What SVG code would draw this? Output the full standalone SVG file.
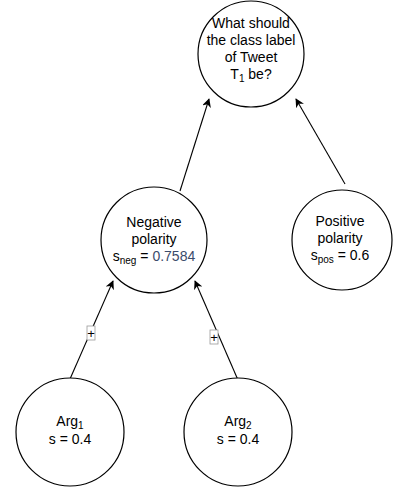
<svg xmlns="http://www.w3.org/2000/svg" width="396" height="489" viewBox="0 0 396 489">
<style>
.n{fill:#fff;stroke:#000;stroke-width:1.2}
.t{font-family:"Liberation Sans",Arial,sans-serif;font-size:14px;fill:#000;text-anchor:middle}
.c{stroke:#000;stroke-width:1.1;fill:none;marker-end:url(#ah)}
.lb{fill:#fff;stroke:#999;stroke-width:0.8}
.pl{font-family:"Liberation Sans",Arial,sans-serif;font-size:13px;fill:#000;text-anchor:middle}
</style>
<defs>
<marker id="ah" viewBox="0 0 10 10" refX="9" refY="5" markerWidth="9" markerHeight="9" markerUnits="userSpaceOnUse" orient="auto">
<path d="M0,0 L10,5 L0,10 L3,5 Z" fill="#000"/>
</marker>
</defs>
<rect width="396" height="489" fill="#fff"/>
<g id="connectors">
<line class="c" x1="180" y1="191" x2="209" y2="99"/>
<line class="c" x1="345" y1="184" x2="296" y2="99"/>
<line class="c" x1="70" y1="379" x2="113" y2="281"/>
<line class="c" x1="238" y1="380" x2="195" y2="281"/>
<g id="label1"><rect class="lb" x="87" y="326" width="8" height="14"/><text class="pl" x="91" y="338">+</text></g>
<g id="label2"><rect class="lb" x="210" y="330" width="8" height="14"/><text class="pl" x="214" y="342">+</text></g>
</g>
<g id="question">
<circle class="n" cx="251" cy="54" r="53"/>
<text class="t" x="251" y="28">What should</text>
<text class="t" x="251" y="45">the class label</text>
<text class="t" x="251" y="62">of Tweet</text>
<text class="t" x="251" y="79">T<tspan font-size="10" dy="3">1</tspan><tspan dy="-3"> be?</tspan></text>
</g>
<g id="negative">
<circle class="n" cx="154" cy="240" r="53"/>
<text class="t" x="154" y="227">Negative</text>
<text class="t" x="154" y="244">polarity</text>
<text class="t" x="154" y="261">s<tspan font-size="10" dy="3">neg</tspan><tspan dy="-3"> = </tspan><tspan fill="#3b4b6b">0.7584</tspan></text>
</g>
<g id="positive">
<circle class="n" cx="342" cy="240" r="50"/>
<text class="t" x="340" y="226">Positive</text>
<text class="t" x="340" y="243">polarity</text>
<text class="t" x="340" y="260">s<tspan font-size="10" dy="3">pos</tspan><tspan dy="-3"> = 0.6</tspan></text>
</g>
<g id="arg1">
<circle class="n" cx="70" cy="432" r="54"/>
<text class="t" x="70" y="426">Arg<tspan font-size="10" dy="3">1</tspan></text>
<text class="t" x="70" y="444">s = 0.4</text>
</g>
<g id="arg2">
<circle class="n" cx="238" cy="432" r="54"/>
<text class="t" x="238" y="426">Arg<tspan font-size="10" dy="3">2</tspan></text>
<text class="t" x="238" y="444">s = 0.4</text>
</g>
</svg>
